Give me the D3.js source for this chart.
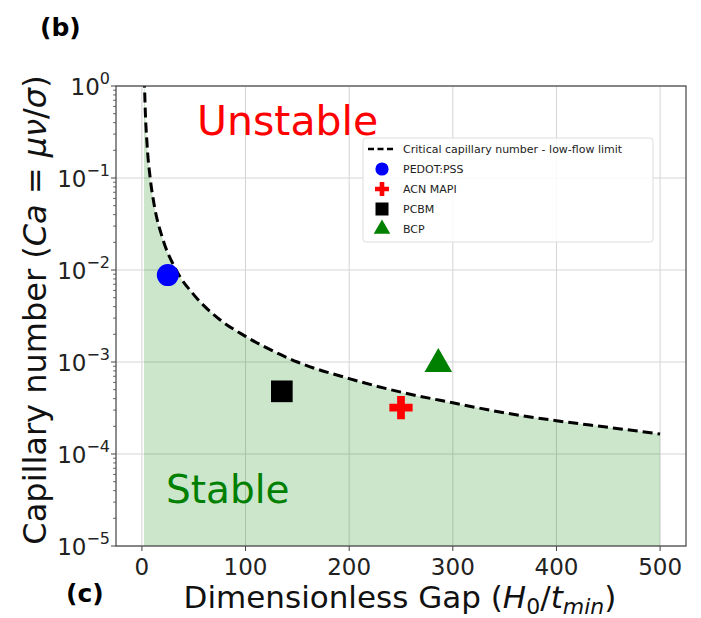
<!DOCTYPE html>
<html lang="en">
<head>
  <meta charset="UTF-8">
  <title>Critical capillary number</title>
  <style>
    body { margin: 0; background: #fff; }
    svg { display: block; font-family: "DejaVu Sans", sans-serif; }
  </style>
</head>
<body>
  <svg id="grafico" width="701" height="618"></svg>

  <script src="https://d3js.org/d3.v7.min.js"></script>
  <script>
    // curva crítica
    const gapCurva = [2, 3, 5, 8, 12, 20, 33, 50, 75, 100, 134, 150, 200, 250, 300, 350, 400, 450, 500];
    const caCurva = [1.8, 0.65, 0.23, 0.1, 0.05, 0.022, 0.01, 0.0054, 0.0029, 0.0019, 0.0012, 0.001,
      0.00066, 0.00047, 0.00036, 0.00028, 0.00023, 0.000195, 0.000165];

    // pontos experimentais
    const materiais = ['PEDOT:PSS', 'ACN MAPI', 'PCBM', 'BCP'];
    const gapMateriais = [25, 250, 135, 286];
    const caMateriais = [0.0088, 0.00032, 0.00048, 0.00095];
    const coresMateriais = ['#0000ff', '#ff0000', '#000000', '#008000'];
    const simbolos = [d3.symbolCircle, d3.symbolCross, d3.symbolSquare, d3.symbolTriangle];

    const ticksX = [0, 100, 200, 300, 400, 500];
    const expoentesY = [0, -1, -2, -3, -4, -5];

    const svg = d3.select('#grafico');
    const esq = 116, dir = 686, topo = 86, base = 546;

    const x = d3.scaleLinear().domain([-25, 525]).range([esq, dir]);
    const y = d3.scaleLog().domain([1e-5, 1]).range([base, topo]);

    svg.append('defs').append('clipPath').attr('id', 'area-plot')
      .append('rect').attr('x', esq).attr('y', topo).attr('width', dir - esq).attr('height', base - topo);

    // grade
    const grade = svg.append('g').attr('stroke', '#d4d4d4').attr('stroke-width', 1);
    ticksX.forEach(t => {
      grade.append('line').attr('x1', x(t)).attr('x2', x(t)).attr('y1', topo).attr('y2', base);
    });
    expoentesY.forEach(e => {
      grade.append('line').attr('x1', esq).attr('x2', dir).attr('y1', y(Math.pow(10, e))).attr('y2', y(Math.pow(10, e)));
    });

    const plot = svg.append('g').attr('clip-path', 'url(#area-plot)');
    const pontosCurva = gapCurva.map((g, i) => [g, caCurva[i]]);

    // região estável
    const area = d3.area()
      .x(d => x(d[0]))
      .y0(y(1e-5))
      .y1(d => y(d[1]))
      .curve(d3.curveMonotoneX);
    plot.append('path').datum(pontosCurva)
      .attr('d', area)
      .attr('fill', 'rgba(0,128,0,0.2)');

    const linha = d3.line()
      .x(d => x(d[0]))
      .y(d => y(d[1]))
      .curve(d3.curveMonotoneX);
    plot.append('path').datum(pontosCurva)
      .attr('d', linha)
      .attr('fill', 'none')
      .attr('stroke', '#000')
      .attr('stroke-width', 3)
      .attr('stroke-dasharray', '10,5');

    // textos das regiões
    svg.append('text').attr('x', 197).attr('y', 135).text('Unstable')
      .style('font-size', '41px').style('fill', '#ff0000');
    svg.append('text').attr('x', 166).attr('y', 503).text('Stable')
      .style('font-size', '39px').style('fill', '#008000');

    // marcadores
    const tamanhos = [380, 300, 470, 330];
    materiais.forEach((m, i) => {
      plot.append('path')
        .attr('d', d3.symbol().type(simbolos[i]).size(tamanhos[i])())
        .attr('transform', `translate(${x(gapMateriais[i])},${y(caMateriais[i])})`)
        .attr('fill', coresMateriais[i]);
    });

    // eixos
    svg.append('rect').attr('x', esq).attr('y', topo).attr('width', dir - esq).attr('height', base - topo)
      .attr('fill', 'none').attr('stroke', '#444').attr('stroke-width', 1.2);

    const eixoX = svg.append('g');
    ticksX.forEach(t => {
      eixoX.append('line').attr('x1', x(t)).attr('x2', x(t)).attr('y1', base).attr('y2', base + 5)
        .attr('stroke', '#444');
      eixoX.append('text').attr('x', x(t)).attr('y', 575).attr('text-anchor', 'middle')
        .style('font-size', '23px').style('fill', '#222').text(t);
    });

    const eixoY = svg.append('g');
    expoentesY.forEach(e => {
      const yy = y(Math.pow(10, e));
      eixoY.append('line').attr('x1', esq - 5).attr('x2', esq).attr('y1', yy).attr('y2', yy).attr('stroke', '#444');
      const txt = eixoY.append('text').attr('x', 110).attr('y', yy + 9).attr('text-anchor', 'end')
        .style('font-size', '23px').style('fill', '#222');
      txt.append('tspan').text('10');
      txt.append('tspan').attr('dy', -11).style('font-size', '16px')
        .text(e === 0 ? '0' : '\u2212' + Math.abs(e));
      if (e > -5) {
        for (let k = 2; k <= 9; k++) {
          const ym = y(k * Math.pow(10, e - 1));
          eixoY.append('line').attr('x1', esq - 3).attr('x2', esq).attr('y1', ym).attr('y2', ym)
            .attr('stroke', '#444').attr('stroke-width', 0.8);
        }
      }
    });

    // rótulos dos eixos
    const rotX = svg.append('text').attr('x', 400).attr('y', 608).attr('text-anchor', 'middle')
      .style('font-size', '31px').style('fill', '#111');
    rotX.append('tspan').text('Dimensionless Gap (');
    rotX.append('tspan').style('font-style', 'italic').text('H');
    rotX.append('tspan').attr('dy', 6).style('font-size', '22px').text('0');
    rotX.append('tspan').attr('dy', -6).text('/');
    rotX.append('tspan').style('font-style', 'italic').text('t');
    rotX.append('tspan').attr('dy', 6).style('font-size', '22px').style('font-style', 'italic').text('min');
    rotX.append('tspan').attr('dy', -6).text(')');

    const rotY = svg.append('text').attr('transform', 'translate(46,310) rotate(-90)')
      .attr('text-anchor', 'middle').style('font-size', '32px').style('fill', '#111');
    rotY.append('tspan').text('Capillary number (');
    rotY.append('tspan').style('font-style', 'italic').text('Ca');
    rotY.append('tspan').text(' = ');
    rotY.append('tspan').style('font-style', 'italic').text('\u03bc\u03bd');
    rotY.append('tspan').text('/');
    rotY.append('tspan').style('font-style', 'italic').text('\u03c3');
    rotY.append('tspan').text(')');

    // legenda
    const leg = svg.append('g');
    leg.append('rect').attr('x', 363).attr('y', 138).attr('width', 290).attr('height', 104).attr('rx', 3)
      .attr('fill', '#fff').attr('fill-opacity', 0.85).attr('stroke', '#ddd');
    const itensLeg = ['Critical capillary number - low-flow limit'].concat(materiais);
    itensLeg.forEach((nome, i) => {
      const yy = 149 + i * 20;
      if (i === 0) {
        leg.append('line').attr('x1', 368).attr('x2', 393).attr('y1', yy).attr('y2', yy)
          .attr('stroke', '#000').attr('stroke-width', 2.4).attr('stroke-dasharray', '6,3.5');
      } else {
        leg.append('path')
          .attr('d', d3.symbol().type(simbolos[i - 1]).size(tamanhos[i - 1] * 0.36)())
          .attr('transform', `translate(382,${yy})`)
          .attr('fill', coresMateriais[i - 1]);
      }
      leg.append('text').attr('x', 403).attr('y', yy + 4).style('font-size', '11px').style('fill', '#222').text(nome);
    });

    // letras dos painéis
    svg.append('text').attr('x', 40).attr('y', 36).style('font-size', '25px').style('font-weight', 'bold').text('(b)');
    svg.append('text').attr('x', 66).attr('y', 602).style('font-size', '25px').style('font-weight', 'bold').text('(c)');
  </script>
</body>
</html>
